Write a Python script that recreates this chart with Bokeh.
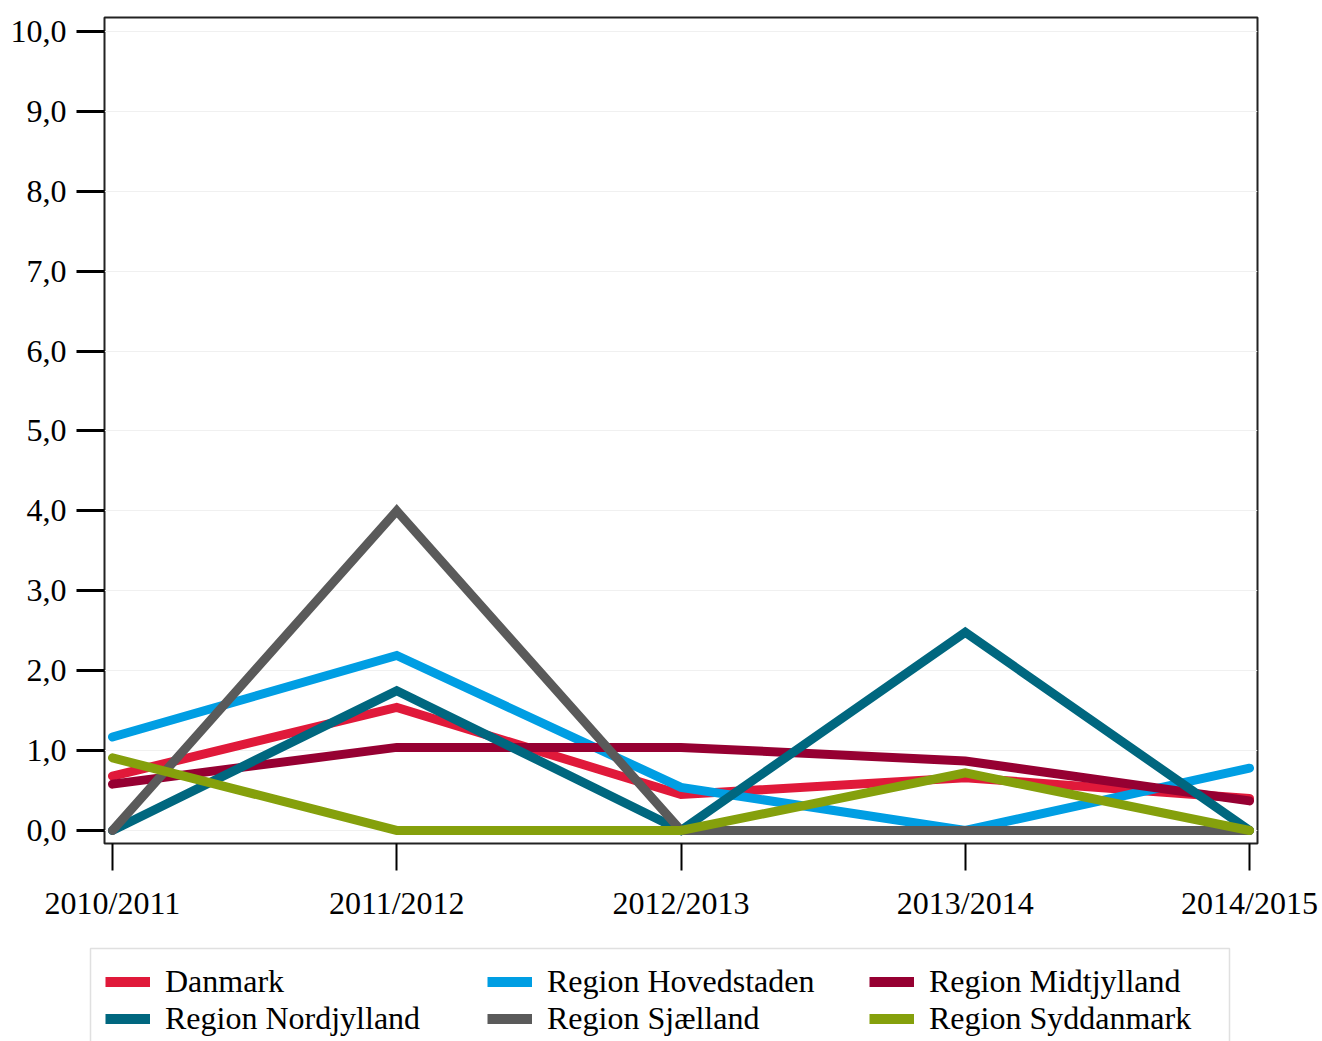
from bokeh.plotting import figure
from bokeh.models import FixedTicker, Legend, LegendItem, Range1d, BoxAnnotation
from bokeh.embed import file_html
from bokeh.resources import INLINE

# ---- data ----
years = ["2010/2011", "2011/2012", "2012/2013", "2013/2014", "2014/2015"]
x_pos = [0, 1, 2, 3, 4]
danmark = [0.68, 1.54, 0.45, 0.66, 0.40]
hovedstaden = [1.17, 2.19, 0.54, 0.00, 0.78]
midtjylland = [0.58, 1.04, 1.04, 0.87, 0.37]
nordjylland = [0.00, 1.75, 0.00, 2.48, 0.00]
sjaelland = [0.00, 4.00, 0.00, 0.00, 0.00]
syddanmark = [0.91, 0.00, 0.00, 0.72, 0.00]

series_names = ["Danmark", "Region Hovedstaden", "Region Midtjylland",
                "Region Nordjylland", "Region Sjælland", "Region Syddanmark"]
series_values = [danmark, hovedstaden, midtjylland, nordjylland, sjaelland, syddanmark]
series_colors = ["#e0193a", "#009ee3", "#960032", "#00677f", "#5a5a5a", "#85a00c"]

y_ticks = [0, 1, 2, 3, 4, 5, 6, 7, 8, 9, 10]
y_tick_labels = ["0,0", "1,0", "2,0", "3,0", "4,0", "5,0", "6,0", "7,0", "8,0", "9,0", "10,0"]

FONT = "Liberation Serif"

p = figure(frame_width=1153, frame_height=826,
           min_border_left=104, min_border_right=65, min_border_top=17, min_border_bottom=90,
           x_range=Range1d(-0.028, 4.028), y_range=Range1d(-0.163, 10.175),
           output_backend="svg", toolbar_location=None,
           background_fill_color="white", border_fill_color="white")

p.outline_line_color = "#222222"
p.outline_line_width = 2

for name, vals, col in zip(series_names, series_values, series_colors):
    p.line(x_pos, vals, line_color=col, line_width=9,
           line_cap="round", line_join="miter")

# axes
p.xaxis.ticker = FixedTicker(ticks=x_pos)
p.xaxis.major_label_overrides = {i: y for i, y in zip(x_pos, years)}
p.yaxis.ticker = FixedTicker(ticks=y_ticks)
p.yaxis.major_label_overrides = {t: l for t, l in zip(y_ticks, y_tick_labels)}

for ax in (p.xaxis, p.yaxis):
    ax.axis_line_color = None
    ax.minor_tick_line_color = None
    ax.major_tick_in = 0
    ax.major_tick_line_color = "black"
    ax.major_label_text_font = FONT
    ax.major_label_text_font_size = "32px"
    ax.major_label_text_color = "black"

p.yaxis.major_tick_out = 28
p.yaxis.major_tick_line_width = 3
p.yaxis.major_label_standoff = 10
p.xaxis.major_tick_out = 27
p.xaxis.major_tick_line_width = 2
p.xaxis.major_label_standoff = 14

p.xgrid.grid_line_color = None
p.ygrid.grid_line_color = "#f0f0f0"
p.ygrid.grid_line_width = 1

# ---- legend strip (separate root below the chart) ----
# same series drawn again, but outside the visible y range, only to provide legend swatches
lf = figure(width=1322, height=108, min_border=0,
            x_range=Range1d(-0.028, 4.028), y_range=Range1d(100, 101),
            x_axis_location=None, y_axis_location=None,
            output_backend="svg", toolbar_location=None,
            background_fill_color="white", border_fill_color="white")
lf.outline_line_color = None
lf.grid.visible = False

swatches = []
for vals, col in zip(series_values, series_colors):
    swatches.append(lf.line(x_pos, vals, line_color=col, line_width=10))

# legend frame box (screen units)
lf.add_layout(BoxAnnotation(left=90, right=1229, top=93, bottom=-60,
                            left_units="screen", right_units="screen",
                            top_units="screen", bottom_units="screen",
                            fill_alpha=0, line_color="#999999", line_width=1.5,
                            level="underlay"))

legend = Legend(items=[LegendItem(label=n, renderers=[r]) for n, r in zip(series_names, swatches)],
                location=(105, 4), orientation="horizontal", ncols=3,
                label_text_font=FONT, label_text_font_size="32px", label_text_color="black",
                border_line_color=None,
                background_fill_alpha=0,
                padding=15, spacing=0, margin=0,
                glyph_width=45, glyph_height=37, label_standoff=15,
                label_width=322, label_height=37)
lf.add_layout(legend, "center")

open("out.html", "w").write(file_html([p, lf], INLINE))
